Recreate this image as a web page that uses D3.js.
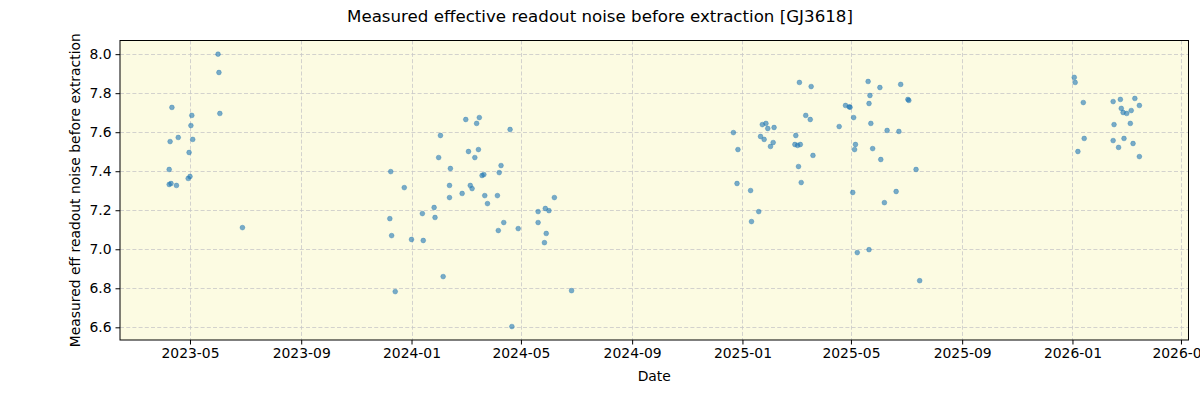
<!DOCTYPE html>
<html>
<head>
<meta charset="utf-8">
<script src="https://cdn.jsdelivr.net/npm/d3@7"></script>
<style>
  html, body { margin: 0; padding: 0; background: #ffffff; }
  svg { display: block; font-family: "DejaVu Sans", sans-serif; }
</style>
</head>
<body>
<svg id="chart" width="1200" height="400"></svg>
<script>
const chartTitle = "Measured effective readout noise before extraction [GJ3618]";
const xLabel = "Date";
const yLabel = "Measured eff readout noise before extraction";
const yTicks = [6.6, 6.8, 7.0, 7.2, 7.4, 7.6, 7.8, 8.0];
const xTickLabels = ["2023-05", "2023-09", "2024-01", "2024-05", "2024-09", "2025-01", "2025-05", "2025-09", "2026-01", "2026-05"];

const dates = [
  "2023-06-01","2023-06-02","2023-04-11","2023-05-03","2023-05-02","2023-06-03","2023-04-18","2023-04-09","2023-05-04","2023-04-30",
  "2023-04-08","2023-05-01","2023-04-29","2023-04-08","2023-04-10","2023-04-16","2023-06-28",
  "2024-03-01","2024-03-16","2024-03-13","2024-04-19","2024-02-02","2024-03-04","2024-03-15","2024-03-11","2024-01-31","2024-04-09",
  "2023-12-09","2024-02-13","2024-03-19","2024-03-21","2024-04-07","2023-12-24","2024-02-12","2024-03-06","2024-03-08","2024-02-26",
  "2024-02-12","2024-03-22","2024-04-05","2024-03-25","2024-06-07","2024-01-26","2024-05-28","2024-05-20","2024-06-01","2023-12-08",
  "2024-01-13","2024-01-27","2024-05-20","2024-04-12","2024-04-28","2024-04-06","2024-05-29","2023-12-10","2024-01-01","2024-01-14",
  "2024-05-27","2024-02-05","2023-12-14","2024-06-26","2024-04-21",
  "2025-03-05","2025-03-18","2025-05-20","2025-06-02","2025-06-25","2025-05-22","2025-05-21","2025-04-25","2025-04-29","2025-04-30",
  "2025-07-03","2025-07-04","2025-03-12","2025-03-17","2025-05-04","2025-01-23","2025-01-27","2025-01-29","2025-02-05","2025-04-18",
  "2025-05-23","2024-12-22","2025-06-10","2025-06-23","2025-01-21","2025-01-25","2025-03-01","2025-02-04","2025-02-01","2025-02-28",
  "2025-03-03","2025-03-06","2025-05-06","2025-05-05","2025-05-25","2024-12-27","2025-03-20","2025-06-03","2025-03-04","2025-07-12",
  "2024-12-26","2025-03-07","2025-01-10","2025-06-20","2025-05-03","2025-06-07","2025-01-19","2025-01-11","2025-05-21","2025-05-08",
  "2025-07-16",
  "2026-01-03","2026-01-04","2026-01-13","2026-02-15","2026-02-23","2026-03-11","2026-03-16","2026-02-24","2026-02-26","2026-03-02",
  "2026-03-07","2026-02-16","2026-03-06","2026-01-14","2026-02-15","2026-02-27","2026-03-09","2026-02-21","2026-01-07","2026-03-16"
];
const values = [
  8.000,7.906,7.727,7.686,7.634,7.696,7.573,7.552,7.563,7.496,
  7.409,7.373,7.363,7.332,7.337,7.327,7.111,
  7.665,7.675,7.645,7.614,7.583,7.501,7.511,7.470,7.470,7.429,
  7.398,7.414,7.378,7.383,7.393,7.316,7.327,7.327,7.311,7.286,
  7.265,7.275,7.275,7.234,7.265,7.214,7.209,7.193,7.198,7.157,
  7.183,7.163,7.137,7.137,7.106,7.096,7.081,7.070,7.050,7.045,
  7.034,6.860,6.783,6.788,6.604,
  7.855,7.834,7.860,7.829,7.845,7.788,7.747,7.737,7.730,7.728,
  7.768,7.763,7.686,7.665,7.675,7.639,7.645,7.619,7.624,7.629,
  7.645,7.598,7.609,7.604,7.578,7.563,7.583,7.547,7.527,7.537,
  7.532,7.537,7.537,7.511,7.516,7.511,7.481,7.460,7.424,7.409,
  7.337,7.342,7.301,7.296,7.291,7.239,7.193,7.142,6.998,6.983,
  6.839,
  7.881,7.855,7.752,7.757,7.768,7.773,7.737,7.722,7.701,7.696,
  7.711,7.639,7.645,7.568,7.557,7.568,7.542,7.522,7.501,7.475
];

const xDomain = [new Date(Date.UTC(2023, 1, 12, 14)), new Date(Date.UTC(2026, 4, 9, 8))];
const yDomain = [6.535, 8.070];

const margin = { left: 120, top: 40.5, right: 1188.5, bottom: 340 };
const svg = d3.select("#chart");

const parse = d3.utcParse("%Y-%m-%d");
const points = dates.map((d, i) => ({ date: parse(d), value: values[i] }));

const x = d3.scaleUtc().domain(xDomain).range([margin.left, margin.right]);
const y = d3.scaleLinear().domain(yDomain).range([margin.bottom, margin.top]);

const xTickDates = xTickLabels.map(s => d3.utcParse("%Y-%m")(s));

// background
svg.append("rect")
  .attr("x", margin.left).attr("y", margin.top)
  .attr("width", margin.right - margin.left).attr("height", margin.bottom - margin.top)
  .attr("fill", "#fcfbe2");

// grid
const grid = svg.append("g");
grid.selectAll("line.gx").data(xTickDates).enter().append("line")
  .attr("x1", d => Math.round(x(d)) + 0.5).attr("x2", d => Math.round(x(d)) + 0.5)
  .attr("y1", margin.top).attr("y2", margin.bottom)
  .attr("stroke", "#c8c8c8").attr("stroke-width", 0.8).attr("stroke-dasharray", "4,2.2");
grid.selectAll("line.gy").data(yTicks).enter().append("line")
  .attr("x1", margin.left).attr("x2", margin.right)
  .attr("y1", d => Math.round(y(d)) + 0.5).attr("y2", d => Math.round(y(d)) + 0.5)
  .attr("stroke", "#c8c8c8").attr("stroke-width", 0.8).attr("stroke-dasharray", "4,2.2");

// points
svg.append("g").selectAll("circle").data(points).enter().append("circle")
  .attr("cx", d => x(d.date)).attr("cy", d => y(d.value))
  .attr("r", 2.4)
  .attr("fill", "#1f77b4").attr("fill-opacity", 0.6)
  .attr("stroke", "#1f77b4").attr("stroke-opacity", 0.6).attr("stroke-width", 0.6);

// frame
svg.append("rect")
  .attr("x", margin.left).attr("y", margin.top)
  .attr("width", margin.right - margin.left).attr("height", margin.bottom - margin.top)
  .attr("fill", "none").attr("stroke", "#000").attr("stroke-width", 1);

// axes
const xAxis = d3.axisBottom(x).tickValues(xTickDates).tickFormat(d3.utcFormat("%Y-%m")).tickSize(4.5).tickPadding(4);
const gx = svg.append("g").attr("transform", `translate(0,${margin.bottom})`).call(xAxis);
gx.select(".domain").remove();
gx.selectAll("text").attr("font-size", 13.9).attr("font-family", "DejaVu Sans").attr("fill", "#000");
gx.selectAll("line").attr("stroke", "#000");

const yAxis = d3.axisLeft(y).tickValues(yTicks).tickFormat(d3.format(".1f")).tickSize(4.5).tickPadding(4);
const gy = svg.append("g").attr("transform", `translate(${margin.left},0)`).call(yAxis);
gy.select(".domain").remove();
gy.selectAll("text").attr("font-size", 13.9).attr("font-family", "DejaVu Sans").attr("fill", "#000");
gy.selectAll("line").attr("stroke", "#000");

// labels
svg.append("text").attr("x", 600).attr("y", 22).attr("text-anchor", "middle")
  .attr("font-size", 16.67).attr("fill", "#000").text(chartTitle);
svg.append("text").attr("x", (margin.left + margin.right) / 2).attr("y", 381).attr("text-anchor", "middle")
  .attr("font-size", 13.9).attr("fill", "#000").text(xLabel);
svg.append("text").attr("transform", `translate(80,${(margin.top + margin.bottom) / 2}) rotate(-90)`)
  .attr("text-anchor", "middle").attr("font-size", 13.9).attr("fill", "#000").text(yLabel);
</script>
</body>
</html>
